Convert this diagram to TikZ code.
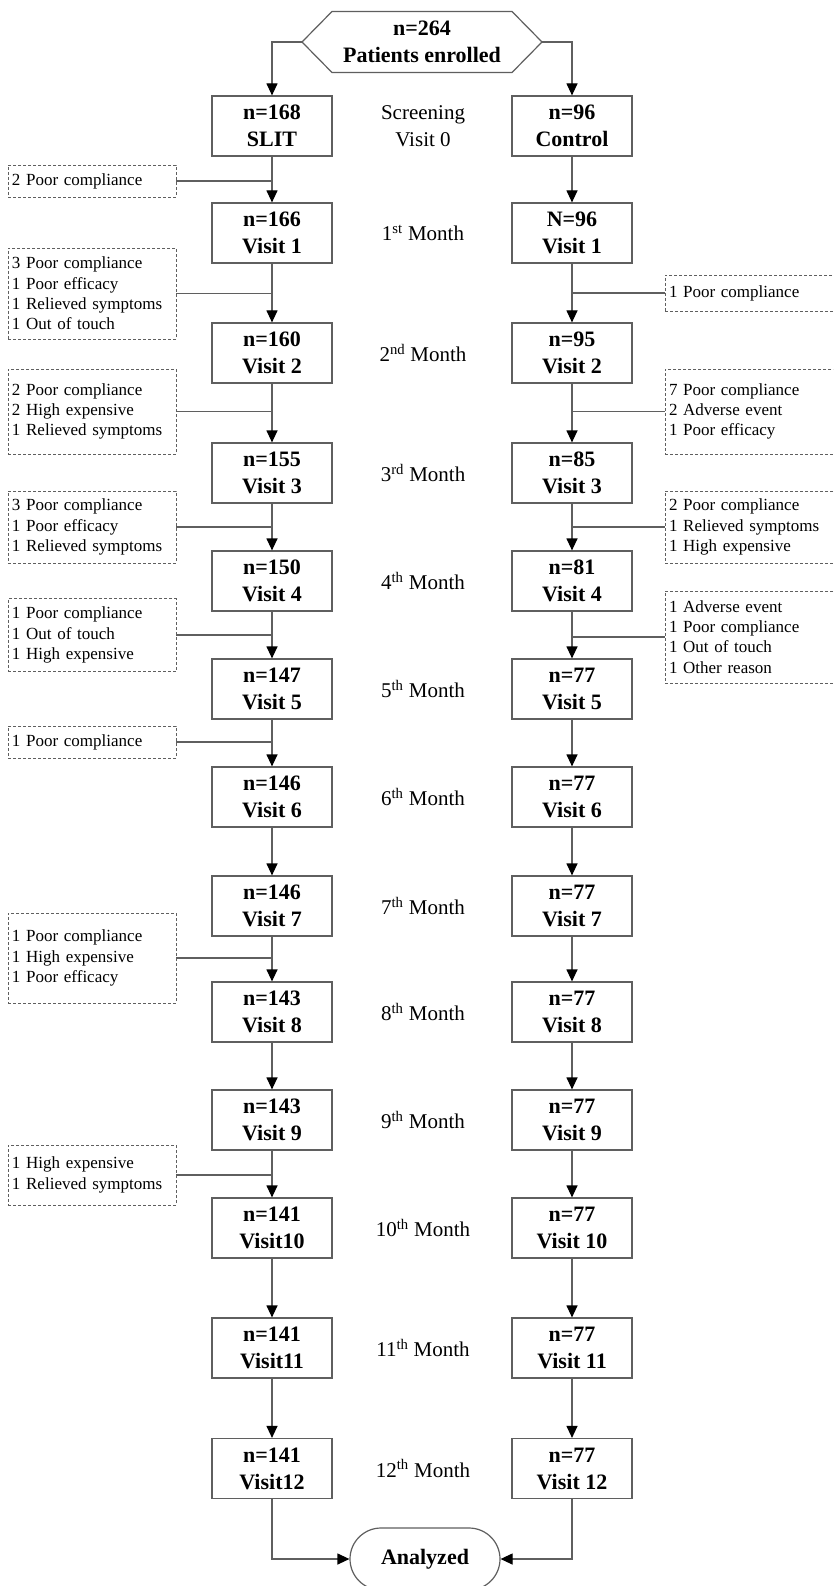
\documentclass[tikz,border=0pt]{standalone}
\usepackage{fontspec}
\setmainfont{Liberation Serif}
\usetikzlibrary{arrows.meta,shapes.misc}
\definecolor{ln}{RGB}{95,95,95}
\tikzset{
  mainbox/.style={draw=ln,line width=1.2pt,minimum width=120pt,minimum height=60pt,inner sep=0pt,align=center,font=\bfseries\fontsize{22}{27}\selectfont},
  sidebox/.style={draw=ln,line width=0.9pt,dash pattern=on 3pt off 2pt,minimum width=168pt,inner sep=0pt,align=left,font=\fontsize{17}{20.3}\selectfont},
  monthlbl/.style={align=center,font=\fontsize{21}{26.5}\selectfont},
  flow/.style={draw=ln,line width=1.2pt,-{Triangle[width=11pt,length=12pt,color=black]}},
  sidelink/.style={draw=ln,line width=1.2pt},
}
\begin{document}
\begin{tikzpicture}[x=1pt,y=-1pt]
\clip (0,0) rectangle (833,1586);
\fill[white] (0,0) rectangle (833,1586);
% enrolled hexagon
\node[font=\bfseries\fontsize{22}{27}\selectfont,align=center] (enr) at (422,42) {n=264\\Patients enrolled};
\draw[ln,line width=1.2pt] (302,42) -- (332,11.5) -- (512,11.5) -- (542,42) -- (512,72.5) -- (332,72.5) -- cycle;
\coordinate (enrL) at (302,42);
\coordinate (enrR) at (542,42);
% rows
\foreach \nm/\y/\lt/\rt/\mo in {
  0/126/{n=168\\SLIT}/{n=96\\Control}/{Screening\\Visit 0},
  1/233/{n=166\\Visit 1}/{N=96\\Visit 1}/{1\textsuperscript{st} Month},
  2/353/{n=160\\Visit 2}/{n=95\\Visit 2}/{2\textsuperscript{nd} Month},
  3/473/{n=155\\Visit 3}/{n=85\\Visit 3}/{3\textsuperscript{rd} Month},
  4/581/{n=150\\Visit 4}/{n=81\\Visit 4}/{4\textsuperscript{th} Month},
  5/689/{n=147\\Visit 5}/{n=77\\Visit 5}/{5\textsuperscript{th} Month},
  6/797/{n=146\\Visit 6}/{n=77\\Visit 6}/{6\textsuperscript{th} Month},
  7/906/{n=146\\Visit 7}/{n=77\\Visit 7}/{7\textsuperscript{th} Month},
  8/1012/{n=143\\Visit 8}/{n=77\\Visit 8}/{8\textsuperscript{th} Month},
  9/1120/{n=143\\Visit 9}/{n=77\\Visit 9}/{9\textsuperscript{th} Month},
  10/1228/{n=141\\Visit10}/{n=77\\Visit 10}/{10\textsuperscript{th} Month},
  11/1348/{n=141\\Visit11}/{n=77\\Visit 11}/{11\textsuperscript{th} Month},
  12/1468.5/{n=141\\Visit12}/{n=77\\Visit 12}/{12\textsuperscript{th} Month}}{
  \node[mainbox] (l\nm) at (272,\y) {\lt};
  \node[mainbox] (r\nm) at (572,\y) {\rt};
  \node[monthlbl] (m\nm) at (423,\y) {\mo};
}
% top split
\draw[flow] (enrL) -| (l0.north);
\draw[flow] (enrR) -| (r0.north);
% vertical flows
\foreach \a/\b in {0/1,1/2,2/3,3/4,4/5,5/6,6/7,7/8,8/9,9/10,10/11,11/12}{
  \draw[flow] (l\a.south) -- (l\b.north);
  \draw[flow] (r\a.south) -- (r\b.north);
}
% analyzed
\node[draw=ln,line width=1.2pt,rounded rectangle,minimum width=150pt,minimum height=62pt,inner sep=0pt,font=\bfseries\fontsize{22}{27}\selectfont] (an) at (425,1559) {Analyzed};
\draw[flow] (l12.south) |- (an.west);
\draw[flow] (r12.south) |- (an.east);
% left side boxes
\foreach \nm/\y/\h/\txt in {
  L1/181/32/{2 Poor compliance},
  L2/293.5/91/{3 Poor compliance\\1 Poor efficacy\\1 Relieved symptoms\\1 Out of touch},
  L3/411.5/85/{2 Poor compliance\\2 High expensive\\1 Relieved symptoms},
  L4/527/72/{3 Poor compliance\\1 Poor efficacy\\1 Relieved symptoms},
  L5/635/73/{1 Poor compliance\\1 Out of touch\\1 High expensive},
  L6/742/32/{1 Poor compliance},
  L7/958/90/{1 Poor compliance\\1 High expensive\\1 Poor efficacy},
  L8/1175/60/{1 High expensive\\1 Relieved symptoms}}{
  \node[sidebox,minimum height=\h pt,text width=160pt] (\nm) at (92,\y) {\txt};
  \draw[sidelink] (\nm.east) -- (272,\y);
}
% right side boxes
\foreach \nm/\y/\h/\txt in {
  R1/293/36/{1 Poor compliance},
  R2/411.5/85/{7 Poor compliance\\2 Adverse event\\1 Poor efficacy},
  R3/527/72/{2 Poor compliance\\1 Relieved symptoms\\1 High expensive},
  R4/637/92/{1 Adverse event\\1 Poor compliance\\1 Out of touch\\1 Other reason}}{
  \node[sidebox,minimum height=\h pt,text width=170pt,minimum width=178pt] (\nm) at (754,\y) {\txt};
  \draw[sidelink] (\nm.west) -- (572,\y);
}
\end{tikzpicture}
\end{document}
